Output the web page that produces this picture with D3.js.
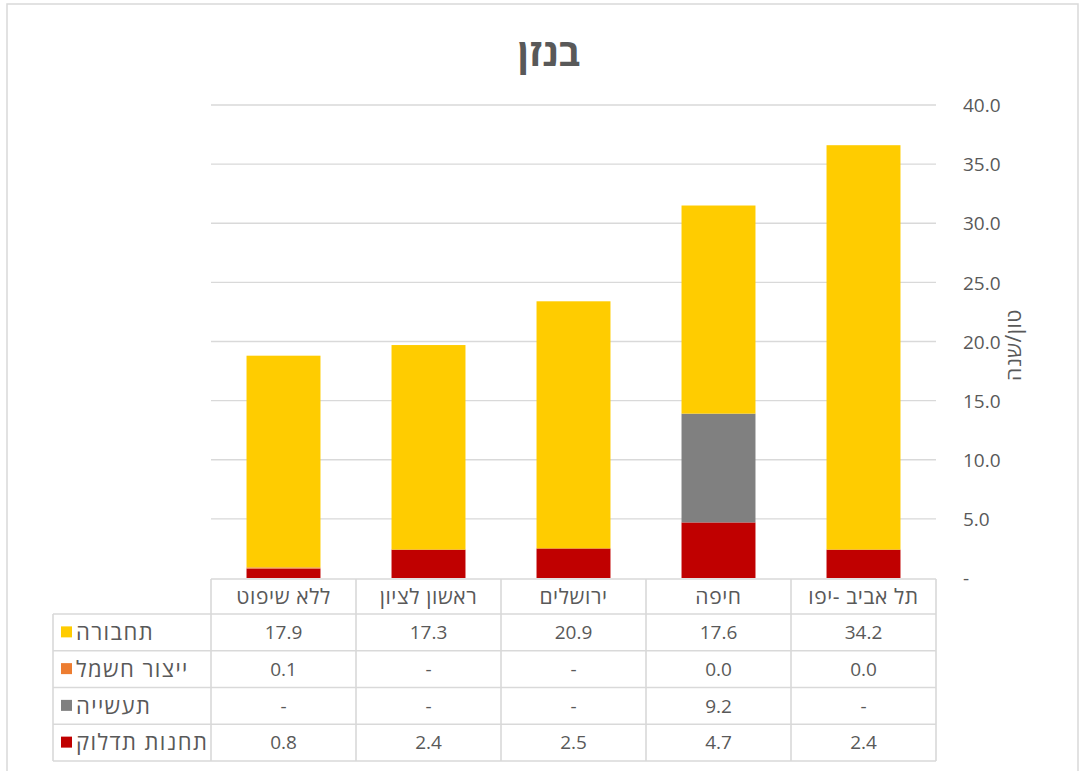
<!DOCTYPE html>
<html>
<head>
<meta charset="utf-8">
<script src="https://cdn.jsdelivr.net/npm/d3@7"></script>
<style>
  html, body { margin: 0; padding: 0; background: #fff; }
  svg { display: block; font-family: "Open Sans", "Noto Sans", sans-serif; }
</style>
</head>
<body>
<svg id="chart" width="1083" height="771"></svg>
<script>
// ---- data ----
const title = "בנזן";
const yAxisTitle = "טון/שנה";
const categories = ["תל אביב -יפו", "חיפה", "ירושלים", "ראשון לציון", "ללא שיפוט"];
const seriesNames = ["תחבורה", "ייצור חשמל", "תעשייה", "תחנות תדלוק"];
const transport = [34.2, 17.6, 20.9, 17.3, 17.9];
const electricity = [0.0, 0.0, null, null, 0.1];
const industry = [null, 9.2, null, null, null];
const fuelStations = [2.4, 4.7, 2.5, 2.4, 0.8];
const seriesColors = ["#FFCC00", "#ED7D31", "#808080", "#C00000"];
const yTicks = [0, 5, 10, 15, 20, 25, 30, 35, 40];

// ---- layout ----
const svg = d3.select("#chart");
const plot = { left: 211, right: 936, top: 105, bottom: 578 };
const table = { left: 53, headerTop: 579, rowTop: 614, bottom: 761 };
const textColor = "#595959";
const gridColor = "#D9D9D9";

// chart border
svg.append("rect").attr("x", 7).attr("y", 4).attr("width", 1071).attr("height", 790)
  .attr("fill", "#fff").attr("stroke", gridColor).attr("stroke-width", 1.5);

const x = d3.scaleBand().domain(categories).range([plot.right, plot.left]).paddingInner(0).paddingOuter(0);
const y = d3.scaleLinear().domain([0, 40]).range([plot.bottom, plot.top]);

// gridlines
svg.append("g").selectAll("line").data(yTicks.filter(t => t > 0)).join("line")
  .attr("x1", plot.left).attr("x2", plot.right)
  .attr("y1", d => y(d)).attr("y2", d => y(d))
  .attr("stroke", gridColor).attr("stroke-width", 1.3);

// right axis labels
const yAxis = d3.axisRight(y).tickValues(yTicks).tickSize(0).tickPadding(0)
  .tickFormat(d => d === 0 ? "-" : d3.format(".1f")(d));
const ya = svg.append("g").attr("transform", `translate(${plot.right + 27},0)`).call(yAxis);
ya.select(".domain").remove();
ya.selectAll("text").attr("fill", textColor).attr("font-size", 19).attr("font-family", "Open Sans")
  .attr("text-anchor", "start").attr("dy", "0.35em");

// axis title
svg.append("text").attr("transform", `translate(1014,345) rotate(-90)`)
  .attr("text-anchor", "middle").attr("dy", "0.35em").attr("fill", textColor).attr("font-size", 21)
  .attr("letter-spacing", 0.5)
  .text(yAxisTitle);

// title
svg.append("text").attr("x", 549).attr("y", 66).attr("text-anchor", "middle")
  .attr("fill", textColor).attr("font-size", 38).attr("font-weight", "bold").text(title);

// stacked bars (bottom: fuel stations, industry, electricity, transport)
const rows = categories.map((c, i) => ({
  cat: c,
  s0: transport[i] || 0,
  s1: electricity[i] || 0,
  s2: industry[i] || 0,
  s3: fuelStations[i] || 0
}));
const stack = d3.stack().keys(["s3", "s2", "s1", "s0"]);
const stacked = stack(rows);
const keyColor = { s0: seriesColors[0], s1: seriesColors[1], s2: seriesColors[2], s3: seriesColors[3] };
const barW = x.bandwidth() * 0.51;
svg.append("g").selectAll("g").data(stacked).join("g")
  .attr("fill", d => keyColor[d.key])
  .selectAll("rect").data(d => d).join("rect")
  .attr("x", d => x(d.data.cat) + (x.bandwidth() - barW) / 2)
  .attr("width", barW)
  .attr("y", d => y(d[1]))
  .attr("height", d => Math.max(0, y(d[0]) - y(d[1])));

// ---- data table ----
const seriesData = [transport, electricity, industry, fuelStations];
const rowH = (table.bottom - table.rowTop) / seriesNames.length;
const tg = svg.append("g");
const lineAttr = sel => sel.attr("stroke", gridColor).attr("stroke-width", 1.6);

// horizontal lines
tg.append("line").attr("x1", plot.left).attr("x2", plot.right).attr("y1", table.headerTop).attr("y2", table.headerTop).call(lineAttr);
d3.range(seriesNames.length + 1).forEach(i => {
  const yy = table.rowTop + i * rowH;
  tg.append("line").attr("x1", table.left).attr("x2", plot.right).attr("y1", yy).attr("y2", yy).call(lineAttr);
});
// vertical lines
tg.append("line").attr("x1", table.left).attr("x2", table.left).attr("y1", table.rowTop).attr("y2", table.bottom).call(lineAttr);
const colEdges = categories.map(c => x(c)).concat([plot.right]);
colEdges.forEach(xx => {
  tg.append("line").attr("x1", xx).attr("x2", xx).attr("y1", table.headerTop).attr("y2", table.bottom).call(lineAttr);
});

// header labels
tg.selectAll("text.cat").data(categories).join("text").attr("class", "cat")
  .attr("x", d => x(d) + x.bandwidth() / 2).attr("y", (table.headerTop + table.rowTop) / 2)
  .attr("dy", "0.35em").attr("text-anchor", "middle").attr("fill", textColor).attr("font-size", 21)
  .attr("letter-spacing", 0.6)
  .text(d => d);

// series rows
seriesNames.forEach((name, r) => {
  const cy = table.rowTop + r * rowH + rowH / 2;
  tg.append("rect").attr("x", 61).attr("y", cy - 6).attr("width", 11).attr("height", 11).attr("fill", seriesColors[r]);
  tg.append("text").attr("x", 76).attr("y", cy).attr("dy", "0.35em").attr("text-anchor", "start")
    .attr("fill", textColor).attr("font-size", 22).attr("letter-spacing", 1.4)
    .text(name);
  categories.forEach((c, i) => {
    const v = seriesData[r][i];
    tg.append("text").attr("x", x(c) + x.bandwidth() / 2).attr("y", cy).attr("dy", "0.35em")
      .attr("text-anchor", "middle").attr("fill", textColor).attr("font-size", 19)
      .text(v == null ? "-" : d3.format(".1f")(v));
  });
});
</script>
</body>
</html>
